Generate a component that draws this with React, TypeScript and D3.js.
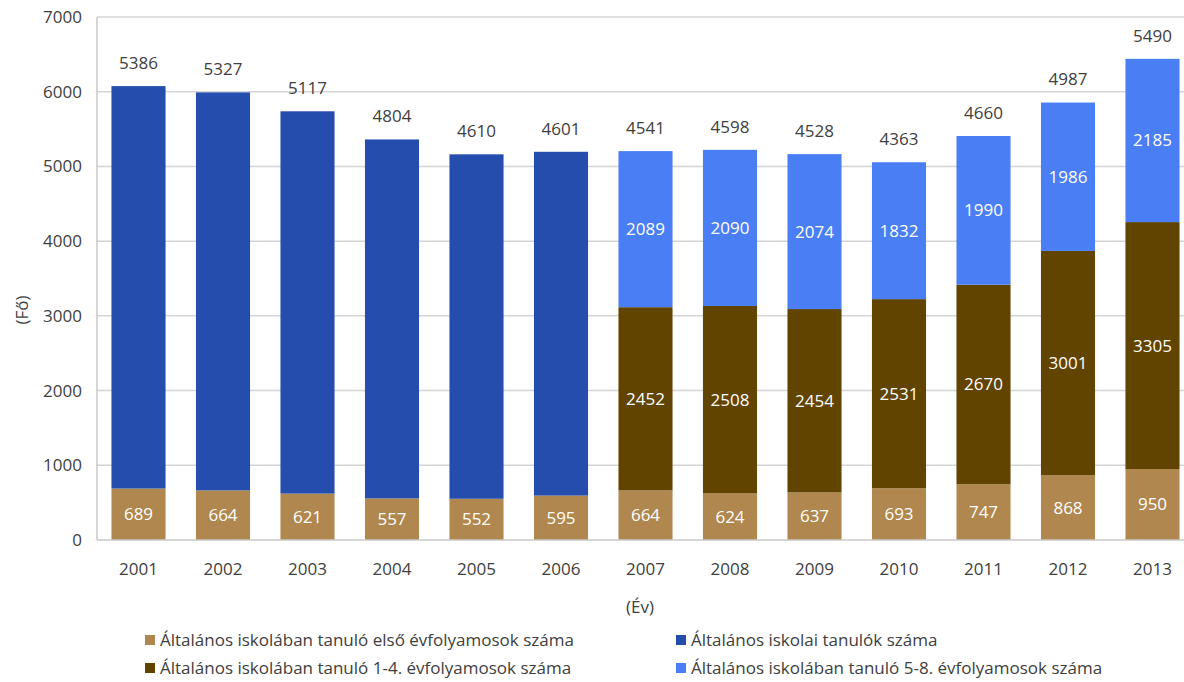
import React from 'react';
import * as d3 from 'd3';

// Adatok (évek, sorozatok)
const years = ['2001', '2002', '2003', '2004', '2005', '2006', '2007', '2008', '2009', '2010', '2011', '2012', '2013'];
const firstGrade = [689, 664, 621, 557, 552, 595, 664, 624, 637, 693, 747, 868, 950];
const allStudents = [5386, 5327, 5117, 4804, 4610, 4601, 0, 0, 0, 0, 0, 0, 0];
const grades14 = [0, 0, 0, 0, 0, 0, 2452, 2508, 2454, 2531, 2670, 3001, 3305];
const grades58 = [0, 0, 0, 0, 0, 0, 2089, 2090, 2074, 1832, 1990, 1986, 2185];
const yTicks = [0, 1000, 2000, 3000, 4000, 5000, 6000, 7000];

const seriesNames = [
  'Általános iskolában tanuló első évfolyamosok száma',
  'Általános iskolai tanulók száma',
  'Általános iskolában tanuló 1-4. évfolyamosok száma',
  'Általános iskolában tanuló 5-8. évfolyamosok száma',
];
const colors = ['#B0874E', '#244DAD', '#604400', '#4A7EF5'];

const W = 1184;
const H = 682;
const FONT = '"Open Sans", sans-serif';
const FS = 17;

const App: React.FC = () => {
  const x = d3.scaleBand().domain(years).range([96.25, 1194.75]).paddingInner(0.36).paddingOuter(0.18);
  const y = d3.scaleLinear().domain([0, 7000]).range([540, 17]);

  const rows = years.map((yr, i) => ({ year: yr, s0: firstGrade[i], s1: allStudents[i], s2: grades14[i], s3: grades58[i] }));
  const stack = d3.stack<any>().keys(['s0', 's1', 's2', 's3'])(rows);

  // összesen (első évfolyam nélkül) a bar fölött
  const totals = years.map((_, i) => allStudents[i] + grades14[i] + grades58[i]);

  return (
    <svg width={W} height={H} style={{ position: 'absolute', left: 0, top: 0, fontFamily: FONT }}>
      <rect width={W} height={H} fill="#fff" />
      {/* rács */}
      {yTicks.filter(t => t > 0).map(t => (
        <line key={t} x1={97} x2={W} y1={y(t)} y2={y(t)} stroke="#d4d4d4" strokeWidth={1.5} />
      ))}
      {yTicks.map(t => (
        <text key={t} x={82} y={y(t)} dy="0.35em" textAnchor="end" fontSize={FS} fill="#404040">{t}</text>
      ))}

      {/* oszlopok */}
      {stack.map((layer, k) => (
        <g key={k} fill={colors[k]}>
          {layer.map((d, i) => d[1] - d[0] > 0 ? (
            <rect key={i} x={x(years[i])} width={x.bandwidth()} y={y(d[1])} height={y(d[0]) - y(d[1])} />
          ) : null)}
        </g>
      ))}

      {/* címkék a szegmenseken */}
      {stack.map((layer, k) => k === 1 ? null : (
        <g key={'l' + k}>
          {layer.map((d, i) => d[1] - d[0] > 0 ? (
            <text key={i} x={(x(years[i]) || 0) + x.bandwidth() / 2} y={(y(d[0]) + y(d[1])) / 2} dy="0.35em"
              textAnchor="middle" fontSize={FS} fill="#fff">{d[1] - d[0]}</text>
          ) : null)}
        </g>
      ))}

      {/* összesen */}
      {totals.map((t, i) => (
        <text key={i} x={(x(years[i]) || 0) + x.bandwidth() / 2} y={y(firstGrade[i] + t) - 23} dy="0.35em"
          textAnchor="middle" fontSize={FS} fill="#404040">{t}</text>
      ))}

      {/* tengelyek */}
      <line x1={97} x2={97} y1={17} y2={540} stroke="#c8c8c8" strokeWidth={1.5} />
      <line x1={97} x2={W} y1={540} y2={540} stroke="#c8c8c8" strokeWidth={1.5} />
      {years.map(yr => (
        <text key={yr} x={(x(yr) || 0) + x.bandwidth() / 2} y={569} dy="0.35em" textAnchor="middle" fontSize={FS} fill="#404040">{yr}</text>
      ))}

      <text x={640} y={607} dy="0.35em" textAnchor="middle" fontSize={FS} fill="#404040">(Év)</text>
      <text transform="translate(22,310) rotate(-90)" dy="0.35em" textAnchor="middle" fontSize={FS} fill="#404040">(Fő)</text>

      {/* jelmagyarázat */}
      {[0, 2, 1, 3].map((k, j) => {
        const col = j < 2 ? 0 : 1;
        const row = j % 2;
        const lx = col === 0 ? 145 : 676;
        const ly = row === 0 ? 640 : 668;
        return (
          <g key={k}>
            <rect x={lx} y={ly - 5} width={10} height={10} fill={colors[k]} />
            <text x={lx + 15} y={ly} dy="0.35em" fontSize={FS} fill="#404040">{seriesNames[k]}</text>
          </g>
        );
      })}
    </svg>
  );
};

export default App;
